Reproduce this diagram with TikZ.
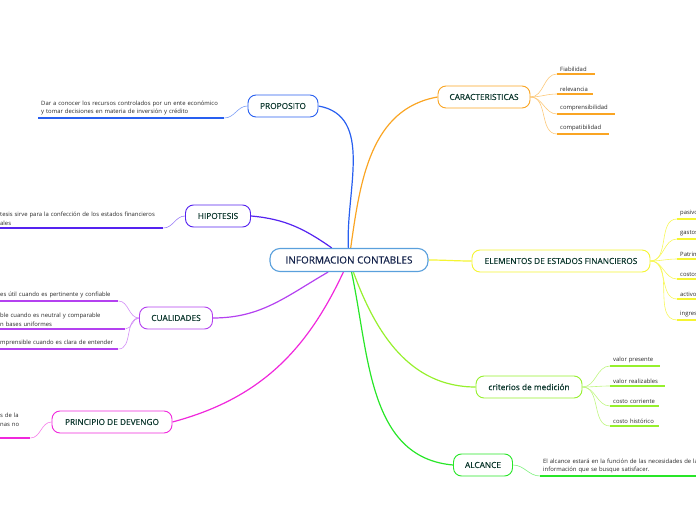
\documentclass[tikz,border=0pt]{standalone}
\usepackage{fontspec}
\setmainfont{Open Sans}
\usetikzlibrary{positioning,backgrounds}

\definecolor{ccent}{RGB}{90,160,220}
\definecolor{cprop}{RGB}{40,95,240}
\definecolor{chip}{RGB}{85,35,240}
\definecolor{ccual}{RGB}{180,65,240}
\definecolor{cprin}{RGB}{240,40,220}
\definecolor{ccar}{RGB}{250,165,35}
\definecolor{cele}{RGB}{245,245,50}
\definecolor{ccri}{RGB}{150,240,45}
\definecolor{calc}{RGB}{40,230,40}
\definecolor{txtgreen}{RGB}{12,55,45}
\definecolor{txtnavy}{RGB}{20,35,75}
\definecolor{txtgray}{RGB}{40,40,40}

\begin{document}
\begin{tikzpicture}[x=1pt,y=1pt]
\tikzstyle{topic}=[rounded corners=8pt, draw, line width=0.9pt, fill=white,
minimum height=22pt, inner xsep=5pt, text=txtgreen,
font=\fontsize{8.3}{9}\selectfont\addfontfeatures{FakeBold=0.4}]
\tikzstyle{leaf}=[anchor=south west, inner xsep=3pt, inner ysep=2.5pt,
align=left, text=txtgray, font=\fontsize{5.9}{8.8}\selectfont]
\tikzstyle{bar}=[line width=1.6pt]
\tikzstyle{twig}=[line width=0.6pt]
\tikzstyle{branch}=[line width=1.2pt]

\useasboundingbox (0,0) rectangle (696,520);

% centre
\node[topic, draw=ccent, line width=1.1pt, rounded corners=10pt, text=txtnavy,
minimum width=158pt, minimum height=23pt,
font=\fontsize{10}{11}\selectfont\addfontfeatures{FakeBold=0.4}]
(IC) at (349,260) {INFORMACION CONTABLES};

% main topics
\node[topic, draw=cprop, minimum width=70pt] (PRO) at (283,414) {PROPOSITO};
\node[topic, draw=chip, minimum width=65pt] (HIP) at (218,304) {HIPOTESIS};
\node[topic, draw=ccual, minimum width=73pt] (CUA) at (176,202) {CUALIDADES};
\node[topic, draw=cprin, minimum width=120pt] (PRI) at (112,98) {PRINCIPIO DE DEVENGO};
\node[topic, draw=ccar, minimum width=92pt] (CAR) at (484,423) {CARACTERISTICAS};
\node[topic, draw=cele, minimum width=178pt] (ELE) at (561,259) {ELEMENTOS DE ESTADOS FINANCIEROS};
\node[topic, draw=ccri, minimum width=106pt] (CRI) at (529,133) {criterios de medición};
\node[topic, draw=calc, minimum width=59pt] (ALC) at (483,55) {ALCANCE};

% leaves, left side
\node[leaf, text width=180pt] (prop1) at (38,402)
{Dar a conocer los recursos controlados por un ente económico\\y tomar decisiones en materia de inversión y crédito};
\node[leaf, text width=160pt] (hip1) at (-3,292)
{tesis sirve para la confección de los estados financieros\\ales};
\node[leaf, text width=115pt] (cual1) at (-3,219)
{es útil cuando es pertinente y confiable};
\node[leaf, text width=122pt] (cual2) at (-3,191)
{ble cuando es neutral y comparable\\n bases uniformes};
\node[leaf, text width=115pt] (cual3) at (-3,171)
{mprensible cuando es clara de entender};
\node[leaf, text width=27pt] (prin1) at (-3,82)
{s de la\\nas no\\\mbox{}};

% leaves, right side
\node[leaf, text width=32pt] (car1) at (557,446) {Fiabilidad};
\node[leaf, text width=30pt] (car2) at (557,426) {relevancia};
\node[leaf, text width=52pt] (car3) at (557,406) {comprensibilidad};
\node[leaf, text width=46pt] (car4) at (557,386) {compatibilidad};

\node[leaf, text width=40pt] (ele1) at (677,301) {pasivos};
\node[leaf, text width=40pt] (ele2) at (677,281) {gastos};
\node[leaf, text width=40pt] (ele3) at (677,261) {Patrimonio};
\node[leaf, text width=40pt] (ele4) at (677,241) {costos};
\node[leaf, text width=40pt] (ele5) at (677,221) {activos};
\node[leaf, text width=40pt] (ele6) at (677,200) {ingresos};

\node[leaf, text width=44pt] (cri1) at (610,154) {valor presente};
\node[leaf, text width=49pt] (cri2) at (610,134) {valor realizables};
\node[leaf, text width=43pt] (cri3) at (610,114) {costo corriente};
\node[leaf, text width=43pt] (cri4) at (610,94) {costo histórico};

\node[leaf, text width=200pt] (alc1) at (540,44)
{El alcance estará en la función de las necesidades de la\\información que se busque satisfacer.};

% underlines
\draw[bar, cprop] (prop1.south west) -- (prop1.south east);
\draw[bar, chip] (hip1.south west) -- (hip1.south east);
\foreach \l in {cual1,cual2,cual3}
  \draw[bar, ccual] (\l.south west) -- (\l.south east);
\draw[bar, cprin] (prin1.south west) -- (prin1.south east);
\foreach \l in {car1,car2,car3,car4}
  \draw[bar, ccar] (\l.south west) -- (\l.south east);
\foreach \l in {ele1,ele2,ele3,ele4,ele5,ele6}
  \draw[bar, cele] (\l.south west) -- (\l.south east);
\foreach \l in {cri1,cri2,cri3,cri4}
  \draw[bar, ccri] (\l.south west) -- (\l.south east);
\draw[bar, calc] (alc1.south west) -- (alc1.south east);

\begin{scope}[on background layer]
% branches from the centre
\draw[branch, cprop] (IC) to[out=93, in=-10] (PRO.east);
\draw[branch, chip] (IC) to[out=145, in=-5] (HIP.east);
\draw[branch, ccual] (IC) to[out=210, in=0] (CUA.east);
\draw[branch, cprin] (IC) to[out=245, in=15] (PRI.east);
\draw[branch, ccar] (IC) to[out=82, in=190] (CAR.west);
\draw[branch, cele] (IC.east) to[out=0, in=180] (ELE.west);
\draw[branch, ccri] (IC) to[out=-70, in=180] (CRI.west);
\draw[branch, calc] (IC) to[out=-78, in=175] (ALC.west);

% twigs to the leaves
\draw[twig, cprop!60] (PRO.west) to[out=180, in=0] (prop1.south east);
\draw[twig, chip!60] (HIP.west) to[out=180, in=0] (hip1.south east);
\foreach \l in {cual1,cual2,cual3}
  \draw[twig, ccual!60] (CUA.west) to[out=180, in=0] (\l.south east);
\draw[twig, cprin!60] (PRI.west) to[out=180, in=0] (prin1.south east);
\foreach \l in {car1,car2,car3,car4}
  \draw[twig, ccar!60] (CAR.east) to[out=0, in=180] (\l.south west);
\foreach \l in {ele1,ele2,ele3,ele4,ele5,ele6}
  \draw[twig, cele!80] (ELE.east) to[out=0, in=180] (\l.south west);
\foreach \l in {cri1,cri2,cri3,cri4}
  \draw[twig, ccri!60] (CRI.east) to[out=0, in=180] (\l.south west);
\draw[twig, calc!60] (ALC.east) to[out=0, in=180] (alc1.south west);
\end{scope}
\end{tikzpicture}
\end{document}
